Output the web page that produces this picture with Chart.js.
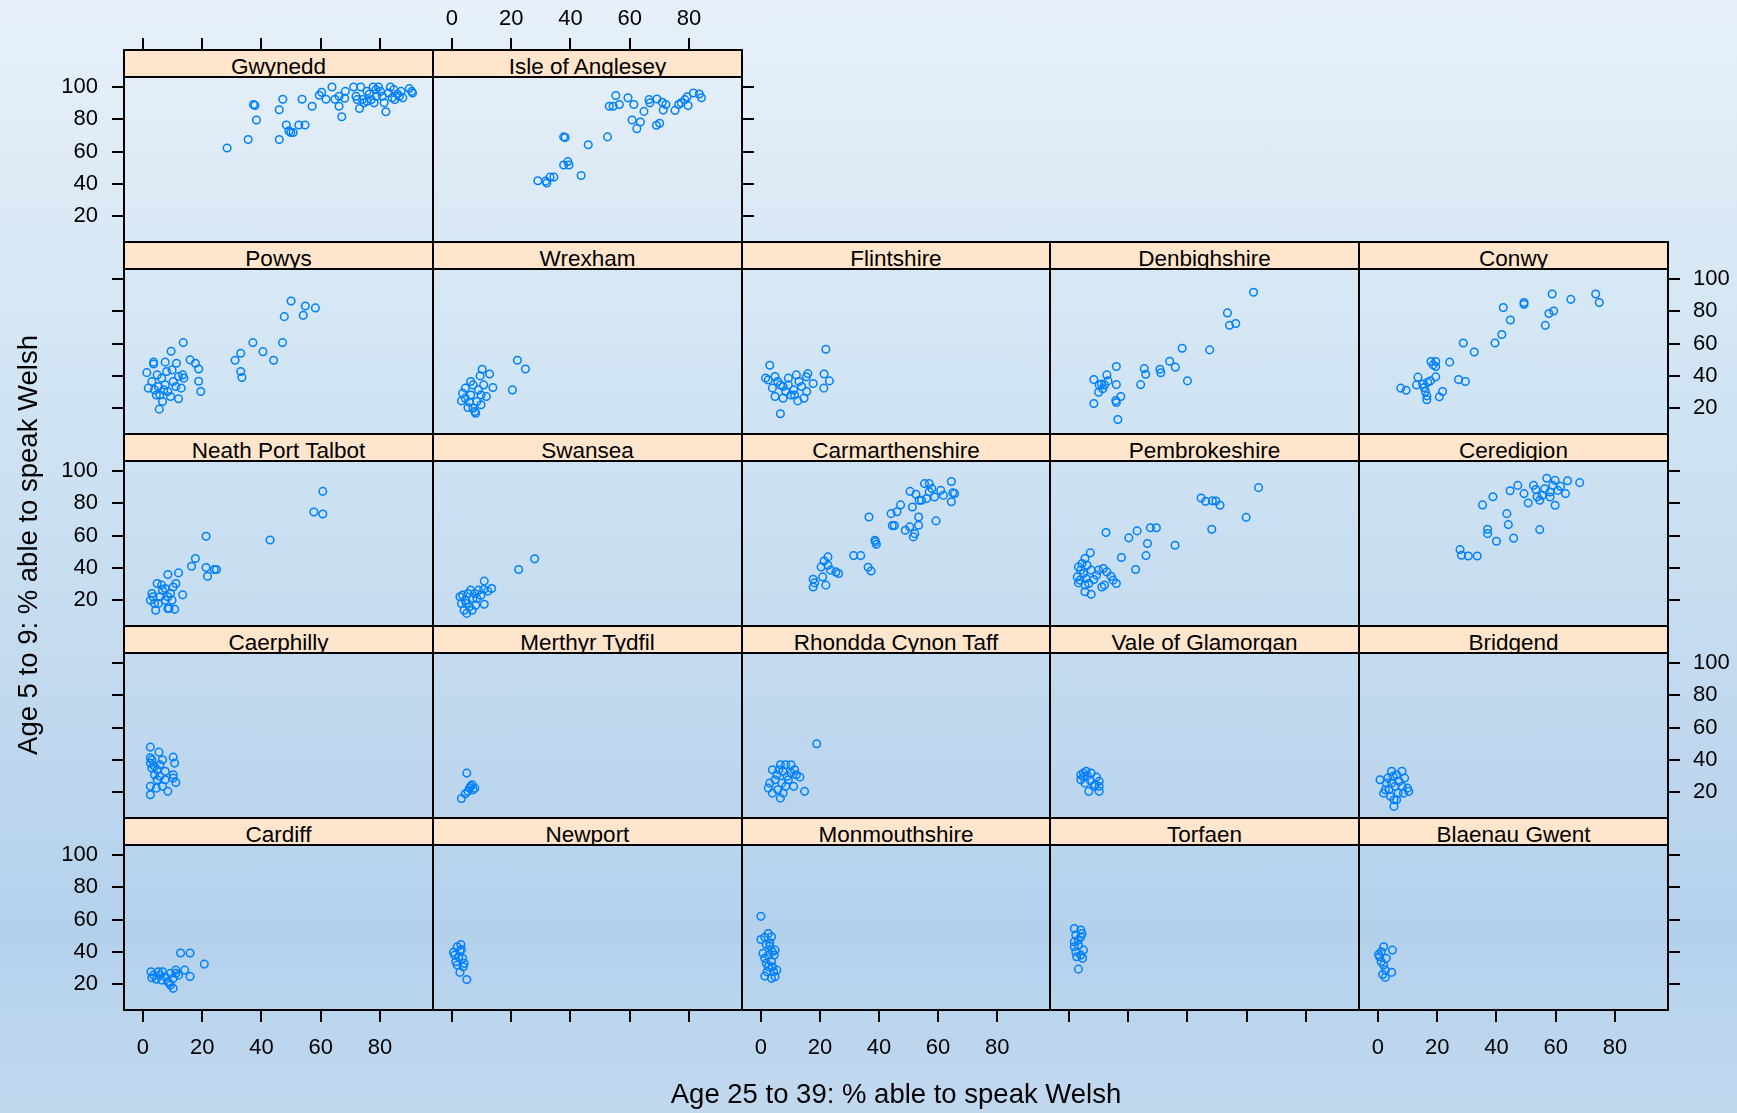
<!DOCTYPE html>
<html>
<head>
<meta charset="utf-8">
<title>Welsh speakers by age, local authorities</title>
<script src="https://cdn.jsdelivr.net/npm/chart.js@4.4.1/dist/chart.umd.min.js"></script>
<style>
  html, body { margin: 0; padding: 0; }
  body {
    width: 1737px; height: 1113px; overflow: hidden; position: relative;
    background: linear-gradient(to bottom, #e7f0f9 0%, #d4e6f4 30%, #c3daef 60%, #b4d1ec 84%, #c1d9ef 100%);
    font-family: "Liberation Sans", Arial, sans-serif;
  }
  canvas { position: absolute; }
  .strip {
    position: absolute; box-sizing: border-box; background: #ffe5cc;
    border: 2px solid #000; overflow: hidden; z-index: 5;
  }
  .strip span {
    position: absolute; left: 0; right: 0; text-align: center;
    font-size: 22.5px; line-height: 1; white-space: nowrap; color: #000;
  }
  .axis-title { position: absolute; font-size: 27.5px; color: #000; white-space: nowrap; text-align: center; }
</style>
</head>
<body>
<script>
// Tick values shared by every panel
const xTicks = [0, 20, 40, 60, 80];
const yTicks = [20, 40, 60, 80, 100];

// [% aged 25-39 able to speak Welsh, % aged 5-9 able to speak Welsh] per ward
const gwynedd = [[28.4,62.2],[35.5,67.5],[37.3,89.2],[37.8,88.6],[38.3,79.6],[46,85.9],[47.2,92.4],[46,67.5],[48.4,76.5],[49.3,72.8],[49.9,71.8],[50.7,71.8],[52.6,76.5],[54.7,76.5],[53.7,92.4],[57.1,88.1],[59.5,94.9],[60.3,96.7],[61.8,92.4],[63.8,100],[64.8,92.4],[66.2,88.1],[66.2,94.3],[67.1,81.6],[68.1,93],[68.3,97.3],[71.1,100],[71.9,94.3],[72.3,92.2],[73.1,86.7],[73.5,100],[74.1,92.2],[74.6,90.2],[75.6,97.3],[76.4,95.7],[77.7,100],[78,90.2],[78.9,94.3],[79.5,100],[80.2,97.3],[80.8,94.3],[81.4,90.2],[82,84.7],[82.9,96.3],[83.5,100],[84.1,93.3],[85,92.2],[85.9,95.7],[86.5,94.3],[87.1,97.3],[87.7,93.3],[89.9,99],[90.7,97.3],[91,96.3],[77.1,92.2],[84.7,98.4],[78.6,98.4],[75.6,91.2]];
const isleOfAnglesey = [[29,41.9],[31.6,41.7],[32,40.5],[33.1,44.2],[34.4,44.2],[37.7,69.1],[38.2,68.7],[37.7,51.7],[39.1,53.8],[39.5,51.7],[43.6,45.2],[46,64.2],[52.5,69.1],[53.1,88.1],[54.4,88.1],[55.3,94.7],[56.5,89.2],[59.4,93.3],[60.8,79.6],[61.4,89.2],[62.4,74.2],[63.6,78.3],[64.8,84.9],[66.5,92.2],[66.8,90.2],[69.2,92.6],[69,76.3],[70.1,77.5],[71,90.6],[71.3,85.7],[72.2,89.2],[75.3,85.5],[76.5,89.2],[77.4,90.2],[78.6,92.2],[79.4,93.9],[79.7,88.5],[81.5,96.3],[83.5,95.7],[84.2,93.3]];
const powys = [[50,86.4],[54.8,83.3],[58.2,82.1],[47.7,76.7],[54.1,77.5],[37.1,60.6],[47.1,60.6],[40.5,55],[44.1,49.7],[33,54],[31.1,49.7],[33,42.7],[33.4,39],[13.6,60.6],[9.5,55.3],[15.9,49.9],[17.7,47.8],[18.8,44.3],[18.8,36.7],[19.5,30.3],[12,25.8],[5.5,19.4],[1.3,42],[3.6,48.5],[3.6,47.4],[7.5,48.5],[11.3,47.8],[1.8,32.4],[4.8,40.6],[6.3,38.6],[7.5,34.4],[3.9,31.3],[5.7,28.2],[8.4,30.3],[10.2,36.5],[12,39.6],[13.4,40.6],[12.9,32.4],[6.6,24.1],[9.3,27.2],[3,36.5],[8,42.7],[11.1,33.4],[5.2,33.4],[4.5,28.2],[7,31.3],[9.8,43.7],[13.8,38.6]];
const wrexham = [[22.1,49.7],[24.8,44.3],[20.4,31.3],[10.2,44.1],[12.7,41.2],[9.5,40],[13.8,32.8],[6.3,36.5],[4.5,32.4],[3.6,29.3],[3.2,24.5],[5.9,23.7],[7.1,20],[8,16.9],[7.7,17.9],[8.4,24.1],[9.8,28.2],[10.7,34.4],[6.3,28.2],[5.4,20.4],[8.9,31.3],[11.6,27.2],[7.1,34.4],[4.5,26.2],[9.8,22.1]];
const flintshire = [[22,56.5],[3,46.6],[6.6,16.5],[21.4,41.2],[23.2,36.9],[21.3,32.4],[17.7,35.3],[15.9,41.4],[12,40.6],[15.4,39.4],[1.6,38.6],[2.5,37.5],[4.8,39.6],[5.7,36.5],[7.5,33.4],[9.3,34.4],[11.1,31.3],[4.8,27.2],[7.5,26.2],[10.2,28.2],[12.5,24.5],[14.6,26.2],[15.5,30.3],[8.4,30.3],[6.6,34.4],[12.9,36.5],[9.3,38.6],[3.9,32.4],[11.4,28.2],[13.8,33.4]];
const denbighshire = [[62.3,91.8],[53.5,79],[54.2,71.3],[56.3,72.4],[38.2,57.1],[47.5,56.1],[40,36.9],[34,49.1],[35.9,45.4],[30.7,44.1],[31,41.9],[25.4,44.5],[25.9,41],[24.2,34.6],[16,45.8],[16,34.6],[17.5,27.2],[15.8,24.7],[16,23.5],[16.5,13],[8.4,22.9],[8.4,37.7],[10.2,34.4],[10,29.9],[11.4,32],[12.8,40.6],[13.2,36.9],[12,34.4],[11,35]];
const conwy = [[58.8,90.7],[73.5,90.7],[74.7,85.4],[65.1,87.4],[49.3,85.4],[49.3,84.3],[42.3,82.3],[44.7,74.6],[57.7,78.6],[59.3,80.2],[56.5,71.3],[41.8,65.6],[39.5,60.4],[28.8,60.4],[32.5,54.8],[24.2,48.5],[27.2,37.7],[29.5,36.5],[17.9,48.9],[19.5,48.9],[18.6,46.8],[19.5,45.8],[19.5,39.4],[13.5,39.2],[7.7,32.4],[9.5,31.1],[13,34.4],[15.1,35],[16.8,36.1],[17.7,36.9],[16,30.3],[16.5,27.6],[16.5,25.2],[21.8,30.3],[20.7,27],[15.6,32.8]];
const neathPortTalbot = [[60.7,87.4],[57.7,74.6],[60.7,73.4],[21.3,59.6],[42.9,57.3],[17.7,45.8],[16.4,41],[21.3,40.2],[24.1,39],[24.8,39],[21.8,34.8],[12,36.9],[8.4,35.9],[13.4,23.3],[4.8,30.3],[11.1,30.3],[2.5,20],[3,24.1],[3.9,17.9],[4.3,13.8],[5.7,22.1],[6.6,26.2],[7.5,20],[8.4,14.8],[9.3,24.1],[10.2,28.2],[10.7,14.4],[8.4,22.1],[6.3,29.3],[5.2,17.9],[9.8,20],[3.4,22.1],[7.5,27.2],[8.8,14.8]];
const swansea = [[27.9,45.6],[22.5,39],[10.9,31.8],[13.4,27.2],[10.9,17.5],[12.1,25.6],[2.7,22.1],[3.2,17.9],[4.1,13.8],[5,11.8],[4.5,20],[5.4,24.1],[6.3,26.2],[7.1,21.1],[8,16.9],[8.9,26.2],[5.9,15.9],[9.8,23.1],[3.6,23.1],[7.7,24.1],[6.8,13.8],[4.8,17.9],[8.4,21.1],[10.7,26.6]];
const carmarthenshire = [[17.7,33],[17.7,28.2],[18.2,30.7],[22,29.3],[20.9,34.4],[20.4,40.6],[21.4,44.3],[22.7,46.8],[23.6,38.6],[25.4,37.5],[26.3,36.5],[22.7,41.6],[31.4,47.6],[33.8,47.6],[36.3,40.4],[37.3,38.1],[36.6,71.5],[38.6,57.1],[39.1,54.6],[38.8,56.1],[44.5,66.2],[45.2,66.2],[44.1,73.6],[46.1,74.8],[47.3,79],[50.5,87.4],[52.5,85.6],[51.3,77.7],[53.4,71.5],[53.6,81.9],[48.9,63.3],[50.4,65.4],[51.6,59.2],[52.1,61.2],[53.4,66.4],[55.4,92.2],[57,92.2],[64.5,93.5],[65,86.5],[65.6,86],[64.5,81],[59.3,69.1],[57.9,89.1],[58.8,83.9],[56.1,82.9],[54.4,81.9],[60.9,88],[61.8,84.9],[57,87.2]];
const pembrokeshire = [[64,89.7],[44.6,83.3],[46.1,81.2],[48.4,81.6],[49.6,81.4],[51,78.8],[59.8,71.3],[48.2,63.9],[35.8,54],[27.5,64.9],[29.5,64.9],[26.5,55.1],[23,62.9],[20.2,58.6],[12.5,61.9],[26,47.6],[17.7,46.4],[22.5,39],[7.2,49.3],[5.4,45.8],[16,30.3],[14.9,32.4],[14.2,34.8],[12.8,37.5],[11.6,39.6],[11.1,28.2],[12,29.3],[7.5,23.7],[5.4,25.2],[3.2,40.6],[4,38.6],[2.8,34.4],[3.2,30.7],[4.9,36.5],[5.8,33.4],[6.7,30.3],[4.4,42.7],[6.1,41.6],[7.5,38.6],[9.3,35.5],[5.4,29.3],[8.4,32.8],[10,38.6],[3.7,32.4]];
const ceredigion = [[68.1,92.8],[64,94],[57,95.5],[59.8,94.2],[63.3,86],[59.8,78.8],[54.6,63.7],[45.8,58.4],[40,56.5],[37,63.9],[37,61.2],[44,66.8],[43.5,73.6],[35.3,79],[38.8,84.1],[44.6,87.8],[47.2,91.1],[27.7,51.3],[28.2,47.8],[30.5,47.4],[33.5,47.4],[49.3,86],[50.7,80.2],[52.5,91.1],[53.3,88.5],[54.6,81.9],[55.4,84.9],[56.3,89],[58.1,83.9],[59,91.1],[60.7,88],[61.6,90.5],[58.1,87],[53.7,84]];
const caerphilly = [[2.5,47.9],[5.4,44.8],[10.2,41.7],[10.7,38],[6.6,40.1],[2.5,41.3],[2.5,38],[3,34.9],[4.8,33.9],[3.9,30.8],[5.7,29.8],[7.5,27.7],[10.2,30.8],[10.2,28.7],[11.1,26],[8.4,20.5],[2.5,18.4],[2.5,23.6],[4.5,22.5],[6.6,23.6],[5.7,37],[3.9,36],[7.5,32.9],[4.8,27.7],[3,40.1]];
const merthyrTydfil = [[5,31.8],[3.2,16.1],[4.5,19],[6.3,23.6],[7.1,21.5],[5.4,20.5],[6.8,24.6],[7.7,22.5],[5.9,22.5]];
const rhonddaCynonTaff = [[18.9,50],[14.8,20.5],[13.2,29.3],[11.1,23.6],[3.9,33.9],[2.5,22.5],[3,25.6],[4.8,27.7],[5.7,21.5],[6.6,16.3],[7.5,19.4],[8.4,23.6],[9.3,27.7],[6.6,37],[8.4,37],[10.2,37],[7.5,32.9],[10.2,31.8],[11.4,33.9],[5.4,30.8],[8.9,29.8],[3.9,19.4],[7.1,25.6],[12,30.8],[6.1,33.9]];
const valeOfGlamorgan = [[4.9,31.8],[5.8,32.9],[7.5,31.8],[4,27.7],[5.4,25.6],[7.2,27.3],[9.3,29.3],[10.2,26.7],[10.2,20.5],[6.7,20.5],[8.4,23.6],[4.9,29.3],[8.8,24.6],[6.1,30.1],[10.2,23.6],[4,30.8]];
const bridgend = [[0.7,27.7],[4.6,32.9],[8.1,32.9],[9,28.7],[10,22.5],[10.4,20.5],[5.4,11.2],[6.3,15.3],[1.9,19.4],[3.7,21.5],[4.6,25.6],[5.8,23.6],[7.2,26.7],[6.8,19.4],[2.8,25.6],[8.1,23.6],[4.2,17.4],[5.1,29.8],[6.3,30.8],[3.3,28.7],[8.6,19.4],[5.4,15.3],[2.5,21.5]];
const cardiff = [[12.7,39.3],[15.9,39.3],[20.7,32.4],[15.9,24.8],[14.1,28.7],[11.1,28.7],[12,25.6],[10.2,17.4],[9.3,19.4],[2.7,27.7],[3.6,25.6],[4.5,23.1],[5.7,25.6],[6.6,27.7],[7.5,24.6],[8.4,21.5],[6.3,22.5],[9.3,26.7],[10.2,23.6],[5.2,27.7],[8.9,20.5],[11.1,26.7],[3,24]];
const newport = [[5,22.9],[2.7,27.3],[3.8,30.8],[1.3,33.9],[0.5,39.7],[1.8,43.2],[3,44.6],[3.2,41.5],[2.3,37],[3.6,36],[0.9,38],[2.7,40.5],[1.8,31.8],[4.1,32.9]];
const monmouthshire = [[0,62],[0,47.7],[1.3,49],[2.5,51.4],[3.6,49.4],[1.3,25],[3.6,23.6],[4.8,24.6],[5.4,28.7],[4.3,27.7],[1.8,44.6],[3,43.6],[3.9,40.1],[2.5,38],[1.3,36],[1.8,32.9],[3.6,34],[4.5,38],[4.8,41.1],[2.5,30.8],[3.9,30.8],[0.7,39.1],[3,45.7],[2.1,27.7]];
const torfaen = [[1.8,54.5],[4,53.5],[3.2,29.3],[2.3,50.4],[4,49.4],[1.8,46.3],[3.2,44.2],[4.9,41.1],[4,38],[2.3,40.1],[1.8,43.2],[4.6,36],[3.2,47.3],[2.6,37],[4.4,51.4]];
const blaenauGwent = [[4.9,41.1],[4.6,27.3],[1.9,43.2],[1.1,40.1],[0.5,37],[1.1,33.9],[1.9,31.8],[2.5,28.7],[2.5,24.2],[1.6,26],[2.8,36],[0.2,38.4]];

// Panel rows, top to bottom
const panelRows = [
  [['Gwynedd', gwynedd], ['Isle of Anglesey', isleOfAnglesey]],
  [['Powys', powys], ['Wrexham', wrexham], ['Flintshire', flintshire], ['Denbighshire', denbighshire], ['Conwy', conwy]],
  [['Neath Port Talbot', neathPortTalbot], ['Swansea', swansea], ['Carmarthenshire', carmarthenshire], ['Pembrokeshire', pembrokeshire], ['Ceredigion', ceredigion]],
  [['Caerphilly', caerphilly], ['Merthyr Tydfil', merthyrTydfil], ['Rhondda Cynon Taff', rhonddaCynonTaff], ['Vale of Glamorgan', valeOfGlamorgan], ['Bridgend', bridgend]],
  [['Cardiff', cardiff], ['Newport', newport], ['Monmouthshire', monmouthshire], ['Torfaen', torfaen], ['Blaenau Gwent', blaenauGwent]]
];

// Shared axis limits for all panels
const X_MIN = -6.4, X_MAX = 97.9;
const Y_MIN = 4.0, Y_MAX = 106.2;

// Page geometry
const FONT = '"Liberation Sans", Arial, sans-serif';
const M = 80;                 // canvas margin around a panel
const STRIP_H = 27;
const PANEL_H = 165;
const ROW_PITCH = 192;
const FIRST_STRIP_TOP = 50;
const colLeft = c => Math.round(124 + c * 308.8);

Chart.defaults.font.family = FONT;
Chart.defaults.color = '#000';

const panelBorder = {
  id: 'panelBorder',
  afterDatasetsDraw(chart) {
    const { ctx, chartArea: a } = chart;
    ctx.save();
    ctx.strokeStyle = '#000';
    ctx.lineWidth = 2;
    ctx.strokeRect(a.left, a.top, a.right - a.left, a.bottom - a.top);
    ctx.restore();
  }
};

const setX = s => { s.ticks = xTicks.map(v => ({ value: v })); };
const setY = s => { s.ticks = yTicks.map(v => ({ value: v })); };

// One axis; when shown it takes exactly M pixels beside the panel
function axis(kind, position, shown, labelled, tickLen, pad) {
  const horizontal = position === 'top' || position === 'bottom';
  const cfg = {
    type: 'linear',
    axis: kind,
    position,
    min: kind === 'x' ? X_MIN : Y_MIN,
    max: kind === 'x' ? X_MAX : Y_MAX,
    display: shown,
    afterBuildTicks: kind === 'x' ? setX : setY,
    grid: { drawOnChartArea: false, drawTicks: true, tickLength: tickLen, color: '#000', lineWidth: 2, tickWidth: 2 },
    border: { display: false },
    ticks: { display: labelled, padding: pad, font: { size: 22, family: FONT }, color: '#000', autoSkip: false, maxRotation: 0, minRotation: 0 }
  };
  if (shown) {
    cfg.afterFit = horizontal ? (s => { s.height = M; }) : (s => { s.width = M; });
  }
  return cfg;
}

const lastRow = panelRows.length - 1;

panelRows.forEach((row, r) => {
  const lastCol = row.length - 1;
  const panelTop = FIRST_STRIP_TOP + r * ROW_PITCH + STRIP_H;
  row.forEach(([name, values], c) => {
    const left = colLeft(c);
    const w = colLeft(c + 1) - left;

    const hasBottom = r === lastRow, hasTop = r === 0;
    const hasLeft = c === 0, hasRight = c === lastCol;

    const canvas = document.createElement('canvas');
    canvas.width = w + 2 * M;
    canvas.height = PANEL_H + 2 * M;
    canvas.style.left = (left - M) + 'px';
    canvas.style.top = (panelTop - M) + 'px';
    canvas.style.width = (w + 2 * M) + 'px';
    canvas.style.height = (PANEL_H + 2 * M) + 'px';
    document.body.appendChild(canvas);

    new Chart(canvas, {
      type: 'scatter',
      data: {
        datasets: [{
          data: values.map(([x, y]) => ({ x, y })),
          pointStyle: 'circle',
          pointRadius: 3.8,
          pointBorderWidth: 1.5,
          pointBorderColor: '#0080ff',
          pointBackgroundColor: 'rgba(0,0,0,0)',
          xAxisID: 'x', yAxisID: 'y'
        }]
      },
      options: {
        responsive: false,
        animation: false,
        devicePixelRatio: 1,
        events: [],
        layout: { padding: { left: hasLeft ? 0 : M, right: hasRight ? 0 : M, top: hasTop ? 0 : M, bottom: hasBottom ? 0 : M } },
        plugins: { legend: { display: false }, tooltip: { enabled: false }, title: { display: false } },
        scales: {
          x: axis('x', 'bottom', hasBottom, c % 2 === 0, 12, 13),
          xTop: axis('x', 'top', hasTop, c % 2 === 1, STRIP_H + 12, 6),
          y: axis('y', 'left', hasLeft, r % 2 === 0, 12, 14),
          yRight: axis('y', 'right', hasRight, r % 2 === 1, 12, 13)
        }
      },
      plugins: [panelBorder]
    });

    // strip with the authority name
    const strip = document.createElement('div');
    strip.className = 'strip';
    strip.style.left = (left - 1) + 'px';
    strip.style.width = (w + 2) + 'px';
    strip.style.top = (panelTop - STRIP_H - 1) + 'px';
    strip.style.height = (STRIP_H + 2) + 'px';
    const label = document.createElement('span');
    label.textContent = name;
    label.style.top = '4.6px';
    strip.appendChild(label);
    document.body.appendChild(strip);
  });
});

// axis titles
const xTitle = document.createElement('div');
xTitle.className = 'axis-title';
xTitle.textContent = 'Age 25 to 39: % able to speak Welsh';
xTitle.style.left = '124px';
xTitle.style.width = '1544px';
xTitle.style.top = '1080px';
xTitle.style.lineHeight = '1';
document.body.appendChild(xTitle);

const yTitle = document.createElement('div');
yTitle.className = 'axis-title';
yTitle.textContent = 'Age 5 to 9: % able to speak Welsh';
yTitle.style.width = '600px';
yTitle.style.height = '34px';
yTitle.style.lineHeight = '34px';
yTitle.style.left = (27.5 - 300) + 'px';
yTitle.style.top = (545 - 17) + 'px';
yTitle.style.transform = 'rotate(-90deg)';
document.body.appendChild(yTitle);
</script>
</body>
</html>
